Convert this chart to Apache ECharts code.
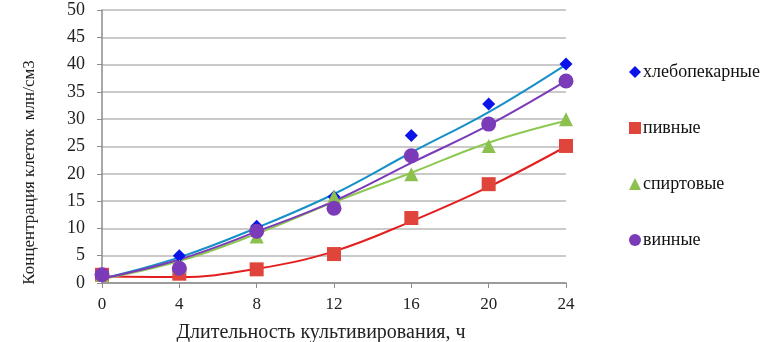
<!DOCTYPE html>
<html><head><meta charset="utf-8">
<script src="https://cdn.jsdelivr.net/npm/echarts@6/dist/echarts.min.js"></script>
<style>html,body{margin:0;padding:0;background:#fff}#c{width:778px;height:342px}</style>
</head><body><div id="c"></div>
<script>
const hours = [0, 4, 8, 12, 16, 20, 24];
const names = ['хлебопекарные', 'пивные', 'спиртовые', 'винные'];
// measured points
const bakery = [1.5, 5.0, 10.4, 15.8, 27.0, 32.8, 40.1];
const beer   = [1.5, 1.7, 2.5, 5.3, 11.9, 18.1, 25.1];
const spirit = [1.5, 3.0, 8.5, 15.8, 19.9, 25.1, 30.0];
const wine   = [1.5, 2.7, 9.5, 13.7, 23.3, 29.1, 37.0];
// trend lines
const bakeryTrend = [0.8, 4.7, 10.1, 16.3, 23.9, 31.3, 40.0];
const beerTrend   = [1.2, 1.1, 2.6, 5.8, 11.3, 17.6, 25.0];
const spiritTrend = [0.7, 4.0, 9.0, 14.8, 20.2, 25.7, 29.7];
const wineTrend   = [0.8, 4.3, 9.4, 15.0, 22.0, 28.9, 37.0];
const yTicks = [0, 5, 10, 15, 20, 25, 30, 35, 40, 45, 50];
const xTicks = hours;

const pair = (xs, ys) => xs.map((x, i) => [x, ys[i]]);
const font = '"Liberation Serif", "Times New Roman", serif';
const markerColors = ['#0a14e8', '#e0453c', '#8dc14f', '#7b3ab8'];
const lineColors = ['#1690c8', '#e41e1e', '#8dc850', '#7b3ab8'];
const symbols = ['diamond', 'rect', 'triangle', 'circle'];
const sizes = [13, 14, 14, 15];
const pts = [bakery, beer, spirit, wine];
const trends = [bakeryTrend, beerTrend, spiritTrend, wineTrend];

const series = [];
trends.forEach((t, i) => series.push({
  type: 'line', data: pair(hours, t), smooth: 0.4, showSymbol: false, silent: true,
  lineStyle: {color: lineColors[i], width: 2}, z: 2
}));
pts.forEach((p, i) => series.push({
  type: 'scatter', name: names[i], data: pair(hours, p), symbol: symbols[i],
  symbolSize: sizes[i], itemStyle: {color: markerColors[i], opacity: 1}, z: 3
}));

const chart = echarts.init(document.getElementById('c'));
chart.setOption({
  animation: false,
  backgroundColor: '#fff',
  grid: {left: 102, right: 212, top: 10, bottom: 59, outerBoundsMode: 'none', containLabel: false},
  xAxis: {
    type: 'value', min: 0, max: 24, interval: 4,
    name: 'Длительность культивирования, ч', nameLocation: 'middle', nameGap: 40,
    nameTextStyle: {fontFamily: font, fontSize: 20, color: '#222', padding: [0, 26, 0, 0]},
    axisLine: {lineStyle: {color: '#8c8c8c', width: 1.5}},
    axisTick: {show: true, length: 5, lineStyle: {color: '#8c8c8c'}},
    axisLabel: {fontFamily: font, fontSize: 17, color: '#222', margin: 13,
      formatter: v => xTicks.includes(v) ? String(v) : ''},
    splitLine: {show: false}
  },
  yAxis: {
    type: 'value', min: 0, max: 50, interval: 5,
    name: 'Концентрация клеток  млн/см3', nameLocation: 'middle', nameGap: 64,
    nameTextStyle: {fontFamily: font, fontSize: 17, color: '#222', padding: [0, 52, 0, 0]},
    axisLine: {show: true, lineStyle: {color: '#8c8c8c', width: 1.5}},
    axisTick: {show: true, length: 5, lineStyle: {color: '#8c8c8c'}},
    axisLabel: {fontFamily: font, fontSize: 18, color: '#222', margin: 17,
      formatter: v => yTicks.includes(v) ? String(v) : ''},
    splitLine: {lineStyle: {color: '#b8b8b8', width: 1.5}}
  },
  legend: {
    orient: 'vertical', left: 624, top: 58, itemGap: 38,
    itemWidth: 12, itemHeight: 12,
    data: names.map((n, i) => ({name: n, icon: symbols[i]})),
    textStyle: {fontFamily: font, fontSize: 18, color: '#111', padding: [0,0,0,-3]}
  },
  series
});
</script></body></html>
